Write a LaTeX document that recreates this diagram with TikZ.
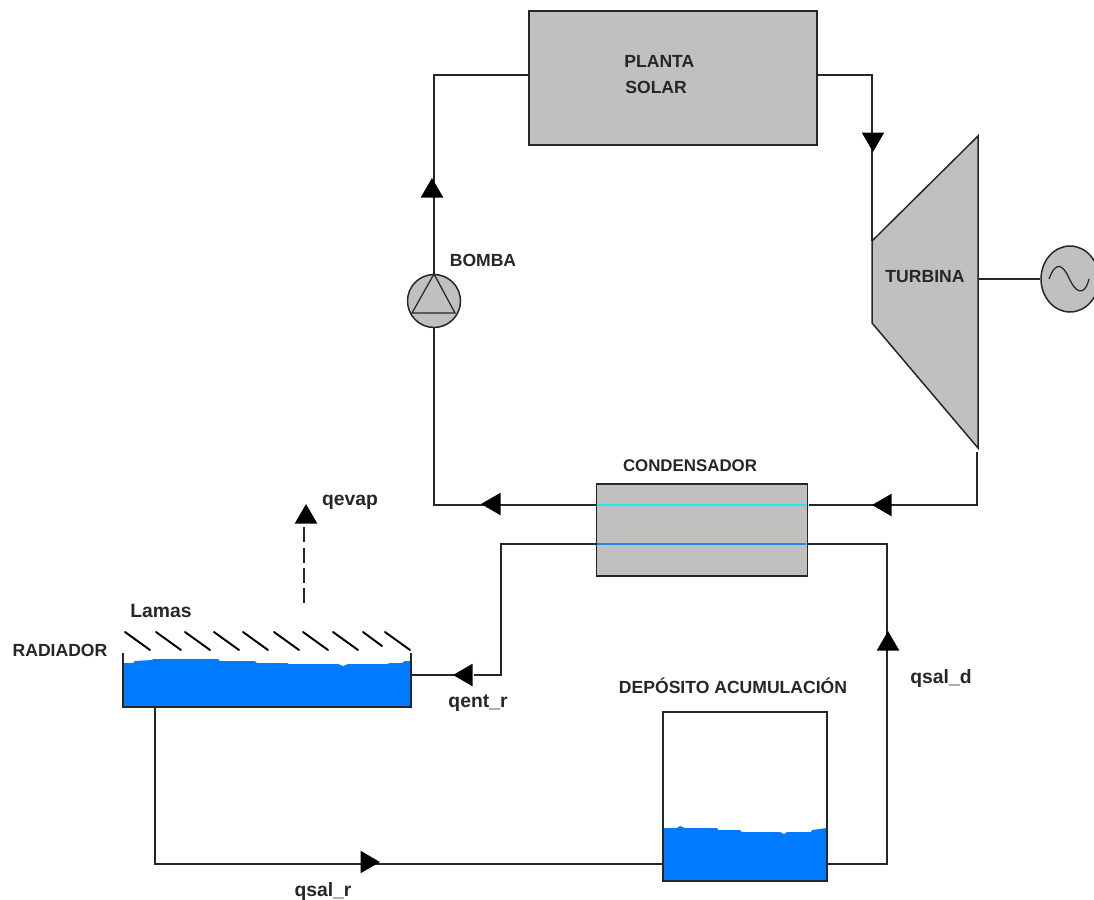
\documentclass[tikz,border=0pt]{standalone}
\usepackage{fontspec}
\setmainfont{Liberation Sans}
\usetikzlibrary{shapes.geometric}
\definecolor{gris}{RGB}{192,192,192}
\definecolor{agua}{RGB}{0,123,255}
\definecolor{cian}{RGB}{30,235,235}
\definecolor{azul}{RGB}{30,135,245}
\tikzset{
  tubo/.style={draw=black!85,line width=0.85pt},
  equipo/.style={draw=black!85,fill=gris,line width=0.85pt,inner sep=0pt},
  punta/.style={regular polygon,regular polygon sides=3,fill=black,inner sep=0pt,minimum size=0.52cm},
  rotulo/.style={text=black!85,font=\fontsize{10pt}{12pt}\selectfont\bfseries,inner sep=0pt},
  rotulob/.style={text=black!85,font=\fontsize{11pt}{14pt}\selectfont\bfseries,inner sep=0pt}
}
\begin{document}
\begin{tikzpicture}[x=0.02cm,y=-0.02cm]
\useasboundingbox (0,0) rectangle (1094,899);
% equipos
\node[equipo,minimum width=5.76cm,minimum height=2.68cm] (solar) at (673,78) {};
\node[rotulo,anchor=west] (tplanta) at (624,61) {PLANTA};
\node[rotulo,anchor=west] (tsolar) at (625,87) {SOLAR};
\node[equipo,minimum width=4.22cm,minimum height=1.84cm] (cond) at (702,530) {};
\node[rotulo,font=\fontsize{9.6pt}{12pt}\selectfont\bfseries] (tcond) at (690,466) {CONDENSADOR};
\node[equipo,circle,minimum size=1.06cm] (bomba) at (434,301) {};
\node[rotulo] (tbomba) at (483,260) {BOMBA};
\draw[line width=0.7pt,draw=black!85] (434,274) -- (412,313) -- (455,313) -- cycle;
\draw[equipo] (872,241) -- (978,136) -- (978,448) -- (872,323) -- cycle;
\node[rotulo] (tturb) at (925,277) {TURBINA};
\node[equipo,ellipse,minimum width=1.16cm,minimum height=1.32cm] (gen) at (1070,279) {};
\draw[line width=0.7pt,draw=black!85] (1049,279) .. controls (1056,260) and (1063,265) .. (1069,278) .. controls (1075,292) and (1084,298) .. (1089,279);
% conexiones
\coordinate (a1) at (434,75);
\coordinate (a2) at (872,75);
\coordinate (a3) at (872,241);
\coordinate (a4) at (978,279);
\coordinate (a5) at (977,452);
\coordinate (a6) at (977,505);
\coordinate (a7) at (809,505);
\coordinate (a8) at (596,505);
\coordinate (a9) at (434,505);
\draw[tubo] (solar.west |- a1) -- (a1) -- (bomba.north);
\draw[tubo] (solar.east |- a2) -- (a2) -- (a3);
\draw[tubo] (a4) -- (gen.west);
\draw[tubo] (a5) -- (a6) -- (a7);
\draw[tubo] (a8) -- (a9) -- (bomba.south);
\draw[cian,line width=0.9pt] (597,505) -- (806,505);
% circuito de agua
\coordinate (b1) at (596,544);
\coordinate (b2) at (501,544);
\coordinate (b3) at (501,675);
\coordinate (b4) at (474,675);
\coordinate (b5) at (807,544);
\coordinate (b6) at (887,544);
\coordinate (b7) at (887,864);
\coordinate (b8) at (827,864);
\coordinate (b9) at (663,864);
\coordinate (b10) at (155,864);
\coordinate (b11) at (155,707);
\coordinate (b12) at (455,675);
\coordinate (b13) at (408,675);
\draw[tubo] (b1) -- (b2) -- (b3) -- (b4);
\draw[tubo] (b12) -- (b13);
\draw[tubo] (b5) -- (b6) -- (b7) -- (b8);
\draw[tubo] (b9) -- (b10) -- (b11);
\draw[azul,line width=0.9pt] (597,544) -- (806,544);
% radiador
\fill[agua] (123,663) -- (133,663) -- (135,661) -- (152,660) -- (153,659) -- (218,659) -- (220,661) -- (255,661) -- (257,663) -- (287,663) -- (289,664) -- (338,664) -- (343,666) -- (348,664) -- (387,664) -- (390,663) -- (402,663) -- (405,661) -- (411,661) -- (411,707) -- (123,707) -- cycle;
\draw[tubo] (123,653) -- (123,707) -- (411,707) -- (411,653);
\foreach \x in {125,156,185,214,243,274,303,333,385}
  \draw[line width=1.1pt,line cap=round] (\x,632) -- (\x+25,650);
\draw[line width=1.1pt,line cap=round] (363,632) -- (382,646);
\node[rotulo] (trad) at (60,650) {RADIADOR};
\node[rotulob] (tlamas) at (161,611) {Lamas};
\coordinate (c1) at (304,603);
\coordinate (c2) at (304,525);
\draw[tubo,dash pattern=on 8.5pt off 3pt] (c1) -- (c2);
\node[rotulob] (tevap) at (350,502) {qevap};
\node[rotulob] (tent) at (478,703) {qent\_r};
\node[rotulob] (tsald) at (941,678) {qsal\_d};
\node[rotulob] (tsalr) at (323,891) {qsal\_r};
% deposito
\fill[agua] (663,828) -- (677,828) -- (680,826) -- (685,828) -- (717,828) -- (718,830) -- (740,830) -- (742,832) -- (780,832) -- (784,834) -- (787,832) -- (811,832) -- (812,830) -- (827,828) -- (827,881) -- (663,881) -- cycle;
\node[draw=black!85,line width=0.85pt,minimum width=3.28cm,minimum height=3.38cm,inner sep=0pt] (dep) at (745,796.5) {};
\node[rotulo] (tdep) at (733,686) {DEPÓSITO ACUMULACIÓN};
% flechas
\node[punta,shape border rotate=0] (f1) at (432,191) {};
\node[punta,shape border rotate=180] (f2) at (873,139) {};
\node[punta,shape border rotate=90] (f3) at (494,504) {};
\node[punta,shape border rotate=90] (f4) at (885,505) {};
\node[punta,shape border rotate=90] (f5) at (466,675) {};
\node[punta,shape border rotate=0] (f6) at (888,644) {};
\node[punta,shape border rotate=270] (f7) at (367,862) {};
\node[punta,shape border rotate=0] (f8) at (306,517) {};
\end{tikzpicture}
\end{document}
